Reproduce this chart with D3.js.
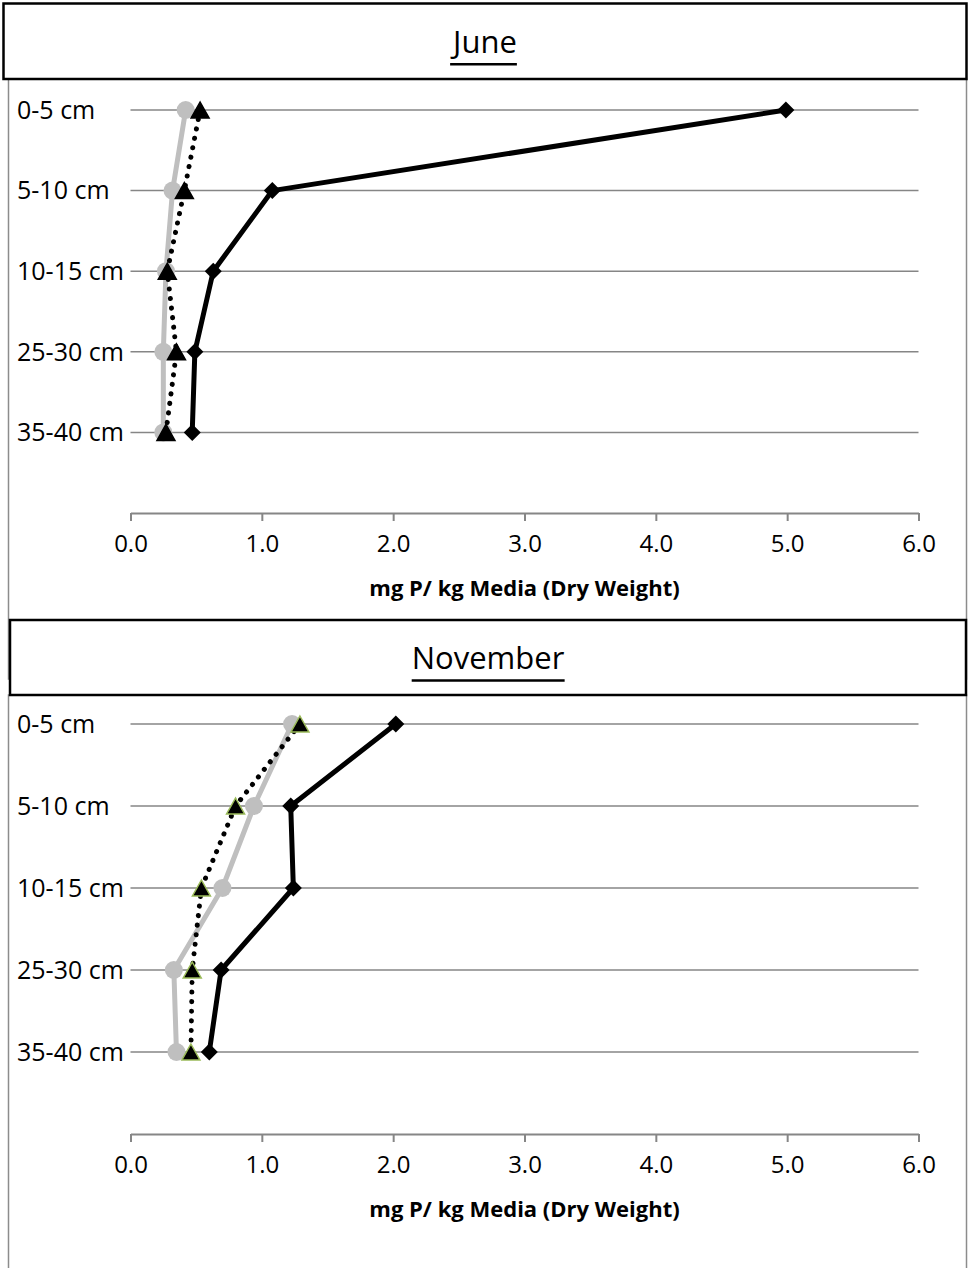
<!DOCTYPE html>
<html>
<head>
<meta charset="utf-8">
<script src="https://cdn.jsdelivr.net/npm/d3@7"></script>
<style>
  html, body { margin: 0; padding: 0; background: #fff; }
  svg { display: block; }
  text { font-family: "Open Sans", "Noto Sans", sans-serif; }
</style>
</head>
<body>
<svg id="chart" width="969" height="1268"></svg>
<script>
// ---- data ----
const categories = ["0-5 cm", "5-10 cm", "10-15 cm", "25-30 cm", "35-40 cm"];
const xTicks = [0, 1, 2, 3, 4, 5, 6];
const axisTitle = "mg P/ kg Media (Dry Weight)";
const panelTitles = ["June", "November"];

const juneBlack  = [4.99, 1.08, 0.63, 0.49, 0.47];
const juneGray   = [0.42, 0.32, 0.27, 0.25, 0.25];
const juneDotted = [0.53, 0.41, 0.28, 0.35, 0.27];

const novBlack  = [2.02, 1.22, 1.24, 0.69, 0.60];
const novGray   = [1.23, 0.94, 0.70, 0.33, 0.35];
const novDotted = [1.29, 0.80, 0.54, 0.47, 0.46];

// ---- layout ----
const svg = d3.select("#chart");

const panels = [
  { title: panelTitles[0], black: juneBlack, gray: juneGray, dotted: juneDotted,
    box: [3.5, 3.5, 963, 75.5], frame: [8.5, 79, 958, 600], yRange: [110, 513], triStroke: "#000" },
  { title: panelTitles[1], black: novBlack, gray: novGray, dotted: novDotted,
    box: [10, 620, 956, 75], frame: [8.5, 695, 958, 600], yRange: [724, 1134], triStroke: "#9BBB59" }
];

const x = d3.scaleLinear().domain([0, 6]).range([130.5, 918.5]);

function trianglePath(w, h) {
  return `M0,${-h/2}L${w/2},${h/2}L${-w/2},${h/2}Z`;
}
function diamondPath(s) {
  return `M0,${-s/2}L${s/2},0L0,${s/2}L${-s/2},0Z`;
}

panels.forEach(p => {
  const g = svg.append("g");
  // y: categories 1..5, axis at slot 6
  const y = d3.scaleLinear().domain([1, 6]).range(p.yRange);

  // panel frame (thin gray)
  g.append("rect")
    .attr("x", p.frame[0]).attr("y", p.frame[1])
    .attr("width", p.frame[2]).attr("height", p.frame[3])
    .attr("fill", "#fff").attr("stroke", "#8c8c8c").attr("stroke-width", 1.5);

  // gridlines
  g.selectAll(".grid").data(categories).join("line")
    .attr("x1", x(0)).attr("x2", x(6))
    .attr("y1", (d, i) => y(i + 1)).attr("y2", (d, i) => y(i + 1))
    .attr("stroke", "#868686").attr("stroke-width", 1.5);

  // category labels
  g.selectAll(".cat").data(categories).join("text")
    .attr("x", 17).attr("y", (d, i) => y(i + 1))
    .attr("dy", "0.35em")
    .attr("font-size", 25)
    .attr("fill", "#000")
    .text(d => d);

  // x axis
  const axis = d3.axisBottom(x).tickValues(xTicks).tickFormat(d3.format(".1f"))
    .tickSize(8).tickSizeOuter(0).tickPadding(14);
  const ax = g.append("g").attr("transform", `translate(0,${y(6)})`).call(axis);
  ax.select(".domain").attr("stroke", "#868686").attr("stroke-width", 2);
  ax.selectAll(".tick line").attr("stroke", "#868686").attr("stroke-width", 2);
  ax.selectAll(".tick text").attr("font-size", 24).attr("fill", "#000")
    .attr("font-family", "'Open Sans', sans-serif");

  g.append("text")
    .attr("x", (x(0) + x(6)) / 2).attr("y", y(6) + 75)
    .attr("dy", "0.35em").attr("text-anchor", "middle")
    .attr("font-size", 22).attr("font-weight", "bold").attr("fill", "#000")
    .text(axisTitle);

  // series
  const idx = d3.range(categories.length);
  const line = vals => d3.line().x(i => x(vals[i])).y(i => y(i + 1))(idx);

  // black diamonds
  g.append("path").attr("d", line(p.black)).attr("fill", "none")
    .attr("stroke", "#000").attr("stroke-width", 5).attr("stroke-linejoin", "round");
  g.selectAll(".dia").data(idx).join("path")
    .attr("d", diamondPath(17))
    .attr("transform", i => `translate(${x(p.black[i])},${y(i + 1)})`)
    .attr("fill", "#000");

  // gray circles
  g.append("path").attr("d", line(p.gray)).attr("fill", "none")
    .attr("stroke", "#BFBFBF").attr("stroke-width", 5).attr("stroke-linejoin", "round");
  g.selectAll(".cir").data(idx).join("circle")
    .attr("cx", i => x(p.gray[i])).attr("cy", i => y(i + 1)).attr("r", 9)
    .attr("fill", "#BFBFBF");

  // dotted triangles
  g.append("path").attr("d", line(p.dotted)).attr("fill", "none")
    .attr("stroke", "#000").attr("stroke-width", 5)
    .attr("stroke-linecap", "round").attr("stroke-dasharray", "0.1 9.5");
  g.selectAll(".tri").data(idx).join("path")
    .attr("d", trianglePath(18, 16))
    .attr("transform", i => `translate(${x(p.dotted[i])},${y(i + 1)})`)
    .attr("fill", "#000").attr("stroke", p.triStroke).attr("stroke-width", 1.5)
    .attr("stroke-linejoin", "miter");

  // title box
  g.append("rect")
    .attr("x", p.box[0]).attr("y", p.box[1])
    .attr("width", p.box[2]).attr("height", p.box[3])
    .attr("fill", "#fff").attr("stroke", "#000").attr("stroke-width", 2.5);
  const tcx = p.box[0] + p.box[2] / 2;
  const t = g.append("text")
    .attr("x", tcx).attr("y", p.box[1] + p.box[3] / 2 + 1)
    .attr("dy", "0.35em").attr("text-anchor", "middle")
    .attr("font-size", 31).attr("fill", "#000")
    .text(p.title);
  const bb = t.node().getBBox();
  g.append("line")
    .attr("x1", bb.x).attr("x2", bb.x + bb.width)
    .attr("y1", p.box[1] + p.box[3] / 2 + 23).attr("y2", p.box[1] + p.box[3] / 2 + 23)
    .attr("stroke", "#000").attr("stroke-width", 2.5);
});
</script>
</body>
</html>
